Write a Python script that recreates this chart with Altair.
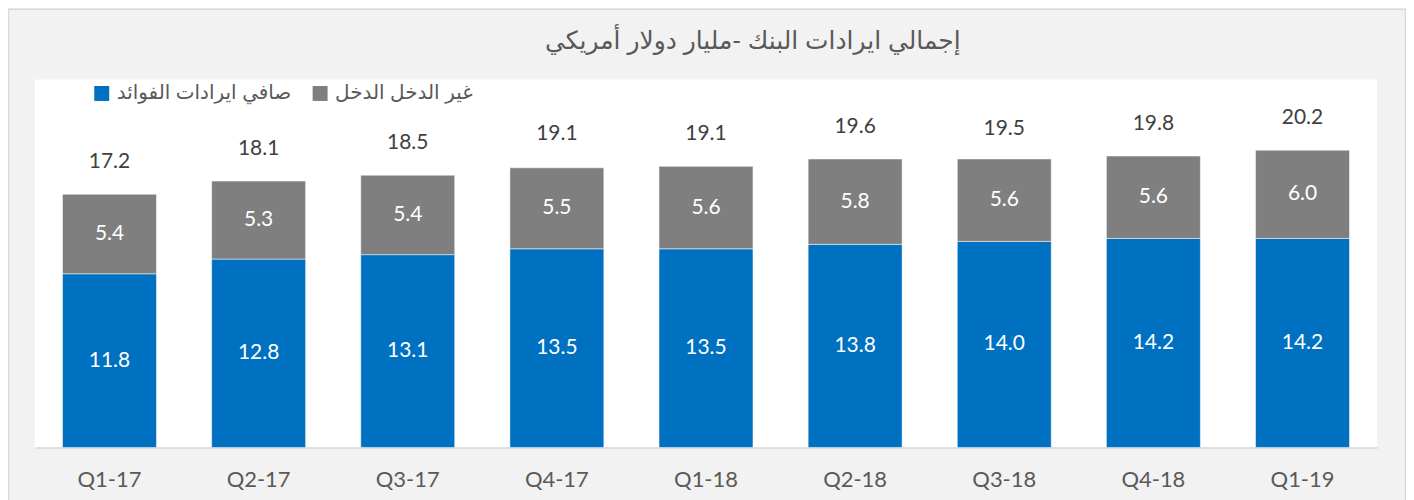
import altair as alt
import pandas as pd

quarters = ["Q1-17", "Q2-17", "Q3-17", "Q4-17", "Q1-18", "Q2-18", "Q3-18", "Q4-18", "Q1-19"]
net_interest = [11.8, 12.8, 13.1, 13.5, 13.5, 13.8, 14.0, 14.2, 14.2]
non_interest = [5.4, 5.3, 5.4, 5.5, 5.6, 5.8, 5.6, 5.6, 6.0]
totals = [17.2, 18.1, 18.5, 19.1, 19.1, 19.6, 19.5, 19.8, 20.2]
series_names = ["صافي ايرادات الفوائد", "غير الدخل الدخل"]
series_colors = ["#0070C0", "#7F7F7F"]
title_text = "إجمالي ايرادات البنك -مليار دولار أمريكي"

rows = []
for i, q in enumerate(quarters):
    rows.append({"q": q, "series": series_names[0], "ord": 0, "v": net_interest[i]})
    rows.append({"q": q, "series": series_names[1], "ord": 1, "v": non_interest[i]})
df = pd.DataFrame(rows)
tot = pd.DataFrame({"q": quarters, "total": totals})

W, H = 1346, 369
num_font = "Lato"
ar_font = "Liberation Sans, Arial, DejaVu Sans"

xenc = alt.X("q:N", sort=quarters, title=None,
             scale=alt.Scale(paddingInner=0.37),
             axis=alt.Axis(labelAngle=0, labelFontSize=22, labelColor="#595959",
                           labelFont=num_font, labelPadding=22, ticks=False,
                           domainColor="#D9D9D9", domainWidth=1.5))
yscale = alt.Scale(domain=[0, 25], nice=False)

bars = alt.Chart(df).mark_bar(stroke="white", strokeWidth=0.5).encode(
    x=xenc,
    y=alt.Y("v:Q", stack="zero", scale=yscale, axis=None),
    color=alt.Color("series:N", sort=series_names,
                    scale=alt.Scale(domain=series_names, range=series_colors),
                    legend=alt.Legend(title=None, orient="none", direction="horizontal",
                                      legendX=57, legendY=4, symbolType="square",
                                      symbolSize=225, symbolStrokeWidth=0,
                                      labelFontSize=20, labelFont=ar_font, labelLimit=0,
                                      labelColor="#595959", columnPadding=18,
                                      labelOffset=5)),
    order=alt.Order("ord:Q"),
)

inner = alt.Chart(df).transform_stack(
    stack="v", groupby=["q"], sort=[alt.SortField("ord")], as_=["v0", "v1"]
).transform_calculate(
    mid="(datum.v0 + datum.v1) / 2"
).mark_text(color="white", fontSize=21, font=num_font).encode(
    x=alt.X("q:N", sort=quarters),
    y=alt.Y("mid:Q", scale=yscale),
    text=alt.Text("v:Q", format=".1f"),
)

top = alt.Chart(tot).mark_text(color="#404040", fontSize=21, font=num_font, dy=-32).encode(
    x=alt.X("q:N", sort=quarters),
    y=alt.Y("total:Q", scale=yscale),
    text=alt.Text("total:Q", format=".1f"),
)

border = alt.Chart(tot.head(1)).mark_rect(fill="transparent", stroke="#D9D9D9", strokeWidth=1.5).encode(
    x=alt.value(-26.5), x2=alt.value(W + 28.5),
    y=alt.value(-70.5), y2=alt.value(H + 120),
)

chart = alt.layer(border, bars, inner, top).properties(
    width=W, height=H,
    title=alt.TitleParams(title_text, fontSize=25, font=ar_font, color="#595959",
                          fontWeight="normal", anchor="middle", dx=47, offset=-46),
    autosize=alt.AutoSizeParams(type="none"),
    padding={"left": 27, "right": 29, "top": 71, "bottom": 60},
    background="#F2F2F2",
).configure_view(fill="white", stroke=None)

chart.save("out.html", embed_options={"renderer": "svg", "actions": False})
